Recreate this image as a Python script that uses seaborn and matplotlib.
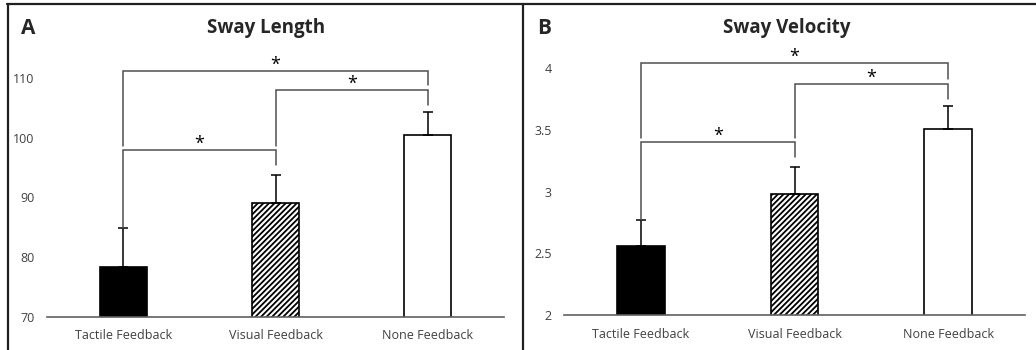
import matplotlib
matplotlib.use("Agg")
import matplotlib.pyplot as plt
import numpy as np
import seaborn as sns
from matplotlib.lines import Line2D

sns.set_style("white")
plt.rcParams["font.family"] = ["Open Sans", "DejaVu Sans"]
plt.rcParams["hatch.linewidth"] = 1.3

categories = ["Tactile Feedback", "Visual Feedback", "None Feedback"]

length_means = [78.4, 89.1, 100.4]
length_errs = [6.5, 4.6, 3.9]
# (left bar, right bar, bracket height, left leg bottom, right leg bottom)
length_brackets = [
    (0, 1, 97.9, 84.9, 95.4),
    (1, 2, 108.0, 98.6, 105.5),
    (0, 2, 111.1, 98.6, 108.8),
]
length_ticks = [70, 80, 90, 100, 110]

velocity_means = [2.56, 2.98, 3.51]
velocity_errs = [0.21, 0.22, 0.18]
velocity_brackets = [
    (0, 1, 3.40, 2.77, 3.28),
    (1, 2, 3.87, 3.43, 3.75),
    (0, 2, 4.04, 3.43, 3.91),
]
velocity_ticks = [2, 2.5, 3, 3.5, 4]
velocity_ticklabels = ["2", "2.5", "3", "3.5", "4"]

bar_colors = ["black", "white", "white"]
text_color = "#404040"
line_color = "#505050"


def draw_panel(ax, means, errs, brackets, ticks, ticklabels, ylim):
    sns.barplot(
        x=categories,
        y=means,
        hue=categories,
        palette=bar_colors,
        legend=False,
        width=0.31,
        edgecolor="black",
        linewidth=1.2,
        ax=ax,
    )
    ax.patches[1].set_hatch("//////")
    ax.errorbar(
        x=np.arange(len(means)),
        y=means,
        yerr=[np.zeros(len(errs)), errs],
        fmt="none",
        ecolor="black",
        elinewidth=1.1,
        capsize=3.3,
        capthick=1.1,
    )
    for left, right, h, lb, rb in brackets:
        ax.plot([left, left, right, right], [lb, h, h, rb], color=line_color, lw=1.1,
                solid_joinstyle="miter")
        ax.annotate("*", xy=((left + right) / 2, h), xytext=(0, -2),
                    textcoords="offset points", ha="center", va="bottom",
                    fontsize=13, color="black")
    ax.set_xlim(-0.5, 2.5)
    ax.set_ylim(*ylim)
    ax.set_yticks(ticks)
    ax.set_yticklabels(ticklabels)
    ax.tick_params(axis="both", length=0, labelsize=9, labelcolor=text_color)
    ax.tick_params(axis="y", pad=9)
    ax.tick_params(axis="x", pad=9)
    for side in ["top", "right", "left"]:
        ax.spines[side].set_visible(False)
    ax.spines["bottom"].set_color("#606060")
    ax.spines["bottom"].set_linewidth(1.2)
    ax.set_facecolor("none")


fig = plt.figure(figsize=(10.36, 3.5), dpi=100)

ax_a = fig.add_axes([0.0454, 0.0943, 0.4411, 0.7686])
draw_panel(ax_a, length_means, length_errs, length_brackets,
           length_ticks, [str(t) for t in length_ticks], (70, 115))

ax_b = fig.add_axes([0.5444, 0.10, 0.445, 0.776])
draw_panel(ax_b, velocity_means, velocity_errs, velocity_brackets,
           velocity_ticks, velocity_ticklabels, (2, 4.2))

bold = dict(ha="center", va="center", fontweight="bold", family=["Open Sans", "DejaVu Sans"])
fig.text(266 / 1036, 1 - 28 / 350, "Sway Length", fontsize=13.5, **bold)
fig.text(787 / 1036, 1 - 28 / 350, "Sway Velocity", fontsize=13.5, **bold)
fig.text(28 / 1036, 1 - 28 / 350, "A", fontsize=15, **bold)
fig.text(544 / 1036, 1 - 28 / 350, "B", fontsize=15, **bold)

# panel frames
fig.add_artist(Line2D([7 / 1036, 1], [1 - 4 / 350] * 2, color="#202020", lw=1.6,
                      transform=fig.transFigure))
fig.add_artist(Line2D([8 / 1036] * 2, [0, 1 - 4 / 350], color="#202020", lw=1.6,
                      transform=fig.transFigure))
fig.add_artist(Line2D([523 / 1036] * 2, [0, 1 - 4 / 350], color="#202020", lw=1.6,
                      transform=fig.transFigure))

fig.savefig("out.png", dpi=100)
plt.close(fig)
